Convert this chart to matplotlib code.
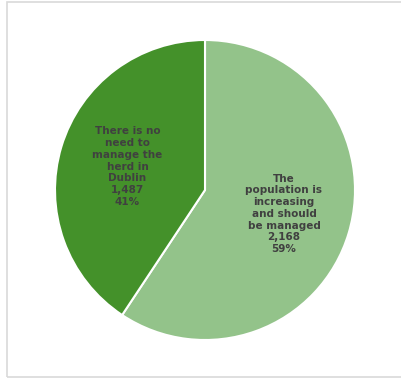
import numpy as np
import matplotlib.pyplot as plt
from matplotlib.patches import Rectangle

label_lines = [["The", "population is", "increasing", "and should", "be managed"],
               ["There is no", "need to", "manage the", "herd in", "Dublin"]]
counts = [2168, 1487]
colors = ["#93C38A", "#44912A"]

W, H = 401, 379
fig = plt.figure(figsize=(W / 100, H / 100), dpi=100)
fig.patch.set_facecolor("white")

# light frame around the chart area
fig.patches.append(Rectangle((7 / W, 2 / H), 1.0, 375 / H, transform=fig.transFigure,
                             fill=False, edgecolor="#D9D9D9", linewidth=1.2))

cx, cy, r = 205, 190, 150
ax = fig.add_axes([(cx - r) / W, (H - cy - r) / H, 2 * r / W, 2 * r / H])

total = sum(counts)
ax.pie(counts, colors=colors, startangle=90, counterclock=False,
       radius=1.0, wedgeprops=dict(edgecolor="white", linewidth=1.5))
ax.set_xlim(-1, 1)
ax.set_ylim(-1, 1)
ax.set_aspect("equal")
ax.axis("off")

# data labels: category, count and share, placed along each wedge's mid angle
start = 90.0
dists = [0.55, 0.54]
for lines, n, d in zip(label_lines, counts, dists):
    sweep = 360.0 * n / total
    mid = np.radians(start - sweep / 2)
    start -= sweep
    txt = "\n".join(lines + [f"{n:,}", f"{round(100 * n / total)}%"])
    ax.text(d * np.cos(mid), d * np.sin(mid), txt, ha="center", va="center",
            fontsize=7.5, fontweight="bold", color="#404040",
            family="DejaVu Sans", linespacing=1.22)

fig.savefig("out.png", dpi=100)
